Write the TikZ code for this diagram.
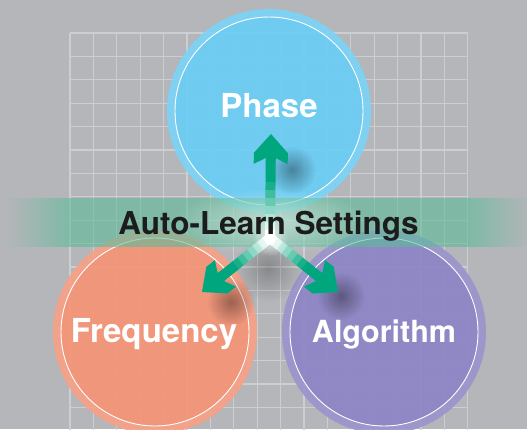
\documentclass[tikz,border=0pt]{standalone}
\usepackage{fontspec}
\setmainfont{TeX Gyre Heros}
\usetikzlibrary{calc,fadings}

\definecolor{bgGray}{RGB}{180,182,185}
\definecolor{gridLine}{RGB}{205,206,209}
\definecolor{phaseBlue}{RGB}{106,205,245}
\definecolor{freqSalmon}{RGB}{246,148,118}
\definecolor{algoPurple}{RGB}{140,133,198}
\definecolor{bandGreen}{RGB}{92,188,154}
\definecolor{arrowGreen}{RGB}{0,166,126}
\definecolor{titleInk}{RGB}{28,28,28}

% soft round blobs (glow and shadow)
\tikzfading[name=soft, inner color=transparent!0, outer color=transparent!100]
% band: fades in at the left, out at the right
\pgfdeclarehorizontalshading{bandshade}{100bp}{color(0bp)=(black); color(25bp)=(black);
  color(31bp)=(white); color(69bp)=(white); color(75bp)=(black); color(100bp)=(black)}
\tikzfading[name=bandfade, shading=bandshade]

% thick chevron head for the setting arrows
\pgfdeclarearrow{
  name = Chev,
  setup code = {
    \pgfarrowssettipend{0pt}
    \pgfarrowssetlineend{-23pt}
    \pgfarrowssetbackend{-30pt}
    \pgfarrowshullpoint{0pt}{0pt}
    \pgfarrowsupperhullpoint{-30pt}{17pt}
  },
  drawing code = {
    \pgfpathmoveto{\pgfpointorigin}
    \pgfpathlineto{\pgfqpoint{-19pt}{17pt}}
    \pgfpathlineto{\pgfqpoint{-30pt}{17pt}}
    \pgfpathlineto{\pgfqpoint{-24pt}{5pt}}
    \pgfpathlineto{\pgfqpoint{-24pt}{-5pt}}
    \pgfpathlineto{\pgfqpoint{-30pt}{-17pt}}
    \pgfpathlineto{\pgfqpoint{-19pt}{-17pt}}
    \pgfpathclose
    \pgfusepathqfill
  }
}

\begin{document}
\begin{tikzpicture}[
  x=1pt, y=-1pt,
  gridrule/.style  ={draw=gridLine, line width=1.3pt},
  bubble/.style    ={circle, minimum size=204pt, inner sep=0pt, draw=none, fill opacity=0.92},
  ring/.style      ={draw=white, line width=0.9pt},
  halo/.style      ={draw=white, draw opacity=0.12, line width=8pt},
  bubbletext/.style={text=white, inner sep=0pt, font=\bfseries\fontsize{33}{36}\selectfont},
  titletext/.style ={text=titleInk, inner sep=0pt, font=\bfseries\fontsize{31.5}{34}\selectfont},
  shaft/.style     ={line width=10pt, line cap=butt}
]

% Background and grid
\fill[bgGray] (0,0) rectangle (527,429);
\useasboundingbox (0,0) rectangle (527,429);
\foreach \i in {0,...,17}{
  \draw[gridrule] ({70+\i*23.4},33) -- ({70+\i*23.4},431);
  \draw[gridrule] (70,{33+\i*23.4}) -- (468,{33+\i*23.4});
}

% The three settings
\node[bubble, fill=phaseBlue]  (phase) at (269,111) {};
\node[bubble, fill=freqSalmon] (freq)  at (155,332) {};
\node[bubble, fill=algoPurple] (algo)  at (384,332) {};
\foreach \c in {phase,freq,algo}{
  \draw[halo] (\c.center) circle[radius=98];
  \draw[ring] (\c.center) circle[radius=94];
}

% Shadows under the arrow heads
\fill[black, fill opacity=0.35, path fading=soft] (292,170) circle[radius=24];
\fill[black, fill opacity=0.35, path fading=soft] (231,302) circle[radius=24];
\fill[black, fill opacity=0.35, path fading=soft] (341,296) circle[radius=24];
\fill[black, fill opacity=0.25, path fading=soft] (268,268) circle[radius=34];

% Green band with a light centre
\fill[bandGreen, fill opacity=0.6, path fading=bandfade] (8,198) rectangle (530,247);
\fill[white, fill opacity=0.5, path fading=soft] (270,222) ellipse[x radius=95, y radius=34];

% Arrows from the hub, white at the hub and green at the heads
\coordinate (hub) at (270,238);
\coordinate (phTip) at (271,134);
\coordinate (frTip) at (202,292);
\coordinate (alTip) at (338,292);
\foreach \tip in {phTip,frTip,alTip}{
  \coordinate (neck) at ($(\tip)!24pt!(hub)$);
  \foreach \k in {0,...,9}{
    \pgfmathtruncatemacro\mix{min(100,15*\k)}
    \draw[shaft, arrowGreen!\mix!white] ($(hub)!{\k/10}!(neck)$) -- ($(hub)!{(\k+1.05)/10}!(neck)$);
  }
  \draw[shaft, arrowGreen, -Chev] ($(\tip)!27pt!(hub)$) -- (\tip);
}
\fill[white, fill opacity=0.7, path fading=soft] (hub) circle[radius=18];

% Labels
\node[bubbletext, anchor=base] (phaseT) at (269,117) {Phase};
\node[bubbletext, anchor=base] (freqT)  at (154,342) {Frequency};
\node[bubbletext, anchor=base, font=\bfseries\fontsize{30.5}{34}\selectfont] (algoT) at (384,342) {Algorithm};
\node[titletext, anchor=base] (title) at (268.5,234) {Auto-Learn Settings};

\end{tikzpicture}
\end{document}
